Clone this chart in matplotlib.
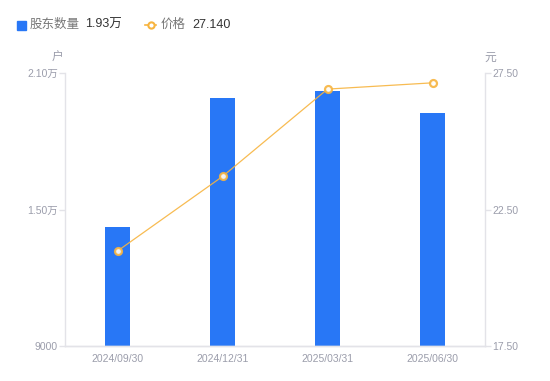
import matplotlib.pyplot as plt
import numpy as np

plt.rcParams['font.family'] = ['Liberation Sans', 'Noto Sans CJK SC', 'DejaVu Sans']

dates = ["2024/09/30", "2024/12/31", "2025/03/31", "2025/06/30"]
holders = [14230, 19900, 20210, 19250]  # 户
prices = [20.98, 23.71, 26.91, 27.14]  # 元

left_ticks = [9000, 15000, 21000]
left_labels = ["9000", "1.50万", "2.10万"]
right_ticks = [17.5, 22.5, 27.5]
right_labels = ["17.50", "22.50", "27.50"]

BLUE = "#2877f6"
ORANGE = "#f7b43f"
TICK = "#9b9dab"
AXIS = "#e3e3e8"

fig = plt.figure(figsize=(5.5, 3.81), dpi=100)
ax = fig.add_axes([65 / 550, 35 / 381, 420 / 550, 273 / 381])
ax2 = ax.twinx()

x = np.arange(len(dates))
ax.bar(x, holders, width=0.236, color=BLUE, zorder=2)
ax.set_xlim(-0.5, len(dates) - 0.5)
ax.set_ylim(9000, 21000)
ax.set_yticks(left_ticks)
ax.set_yticklabels(left_labels)
ax.set_xticks(x)
ax.set_xticklabels(dates)

ax2.plot(x, prices, color=ORANGE, lw=0.9, alpha=0.9, marker="o", ms=5,
         mfc="white", mec=ORANGE, mew=1.6, zorder=3)
ax2.set_ylim(17.5, 27.5)
ax2.set_yticks(right_ticks)
ax2.set_yticklabels(right_labels)

for a in (ax, ax2):
    for s in a.spines.values():
        s.set_color(AXIS)
        s.set_linewidth(1)
    a.spines["top"].set_visible(False)
    a.tick_params(axis="y", colors=AXIS, labelcolor=TICK, labelsize=7.5, length=4, width=1, pad=1)
ax.tick_params(axis="x", length=0, labelcolor=TICK, labelsize=7.5, pad=6)
ax2.spines["left"].set_visible(False)
ax.spines["right"].set_visible(False)

fig.text(58 / 550, 1 - 58 / 381, "户", color=TICK, fontsize=8.5, ha="center", va="center")
fig.text(490 / 550, 1 - 58 / 381, "元", color=TICK, fontsize=8.5, ha="center", va="center")

# legend
ly = 1 - 25 / 381
fig.patches.append(plt.Rectangle((17 / 550, 1 - 29.5 / 381), 9 / 550, 9 / 381,
                                 transform=fig.transFigure, color=BLUE, figure=fig))
fig.text(30 / 550, ly, "股东数量", color="#777777", fontsize=9, va="center")
fig.text(85 / 550, ly, "1.93万", color="#333333", fontsize=9, va="center")
fig.add_artist(plt.Line2D([145 / 550, 156 / 550], [ly, ly],
                          color=ORANGE, lw=1.2, transform=fig.transFigure))
fig.add_artist(plt.Line2D([150.5 / 550], [ly], color=ORANGE, marker="o", ms=4.5,
                          mfc="white", mew=1.5, transform=fig.transFigure))
fig.text(161 / 550, ly, "价格", color="#777777", fontsize=9, va="center")
fig.text(192 / 550, ly, "27.140", color="#333333", fontsize=9, va="center")

fig.savefig("out.png", dpi=100)
